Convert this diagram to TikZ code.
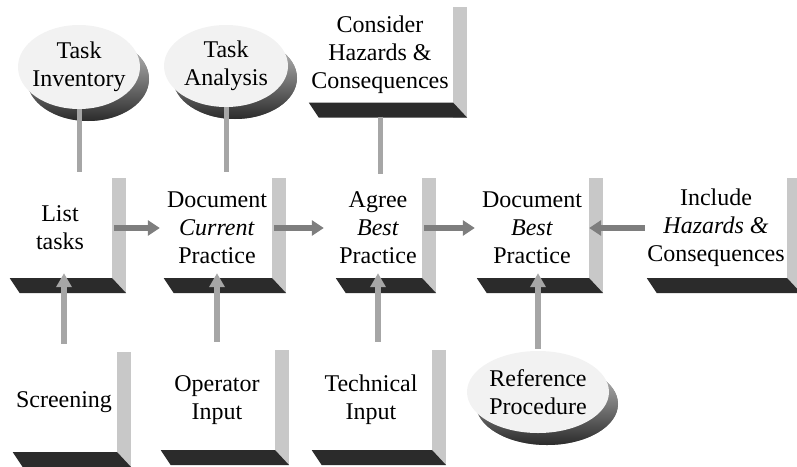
\documentclass[tikz,border=0pt]{standalone}
\usepackage{fontspec}
\setmainfont{LiberationSerif}[Extension=.ttf,UprightFont=*-Regular,ItalicFont=*-Italic,BoldFont=*-Bold,BoldItalicFont=*-BoldItalic]
\usepackage{tikz}
\usetikzlibrary{arrows.meta,positioning,calc,shapes.geometric,shadows}
\definecolor{Slab}{HTML}{2B2B2B}
\definecolor{Side}{HTML}{C8C8C8}
\definecolor{Shaft}{HTML}{7E7E7E}
\definecolor{Stem}{HTML}{A6A6A6}
\definecolor{Pale}{HTML}{F2F2F2}
\tikzset{
  face/.style={fill=white,inner sep=0pt,align=center,font=\rmfamily\fontsize{24}{28}\selectfont},
  disc/.style={ellipse,face,fill=Pale,inner xsep=-12pt,inner ysep=-6pt,
    drop shadow={shadow xshift=9pt,shadow yshift=-12pt,opacity=1,top color=Side,bottom color=Slab}},
  flowarrow/.style={-{Triangle[length=12pt,width=15pt]},line width=6pt,draw=Shaft},
  uparrow/.style={flowarrow,draw=Stem,-{Triangle[length=14pt,width=15pt]}},
  stem/.style={line width=5pt,draw=Stem}
}

\begin{document}
\begin{tikzpicture}[x=1pt,y=-1pt]
  \useasboundingbox (0,0) rectangle (797,466);
  % top row: sources
  \node[disc,minimum width=122pt,minimum height=84pt] (inventory) at (79,67) {Task\\Inventory};
  \node[disc,minimum width=124pt,minimum height=82pt] (analysis) at (226,66) {Task\\Analysis};
  \node[face,minimum width=146pt,minimum height=95pt] (hazards) at (380,55) {Consider\\Hazards \&\\Consequences};
  % middle row: the procedure steps
  \node[face,minimum width=104pt,minimum height=100pt] (list) at (60,228) {List\\tasks};
  \node[face,minimum width=110pt,minimum height=100pt] (current) at (217,228) {Document\\\textit{Current}\\Practice};
  \node[face,minimum width=88pt,minimum height=100pt] (agree) at (378,228) {Agree\\\textit{Best}\\Practice};
  \node[face,minimum width=114pt,minimum height=100pt] (best) at (532,228) {Document\\\textit{Best}\\Practice};
  \node[face,minimum width=142pt,minimum height=100pt] (include) at (716,228) {Include\\\textit{Hazards \&}\\Consequences};
  % bottom row: inputs
  \node[face,minimum width=106pt,minimum height=100pt] (screen) at (64,402) {Screening};
  \node[face,minimum width=116pt,minimum height=100pt] (operator) at (217,400) {Operator\\Input};
  \node[face,minimum width=122pt,minimum height=100pt] (technical) at (371,400) {Technical\\Input};
  \node[disc,minimum width=142pt,minimum height=82pt] (reference) at (538,392) {Reference\\Procedure};

  % side and floor of every box
  \foreach \b in {hazards,list,current,agree,best,include,screen,operator,technical} {
    \fill[Side] (\b.north east) rectangle ($(\b.south east)+(14,15)$);
    \fill[Slab] ($(\b.south west)+(2,0)$) -- (\b.south east) -- ($(\b.south east)+(14,15)$)
      -- ($(\b.south west)+(12,15)$) -- cycle;
  }

  % feeds from above
  \draw[stem,shorten >=6pt] (inventory.south) -- (inventory.south |- list.north);
  \draw[stem,shorten >=6pt] (analysis.south) -- (analysis.south |- current.north);
  \draw[stem,shorten <=14pt,shorten >=4pt] (hazards.south) -- (hazards.south |- agree.north);

  % main flow
  \draw[flowarrow,shorten <=2pt,shorten >=2pt] (list) -- (current);
  \draw[flowarrow,shorten <=2pt,shorten >=10pt] (current) -- (agree);
  \draw[flowarrow,shorten <=2pt] (agree) -- (best);
  \draw[flowarrow] (include) -- (best);

  % inputs from below
  \draw[uparrow,shorten <=8pt,shorten >=-5pt] (screen.north) -- (screen.north |- list.south);
  \draw[uparrow,shorten <=8pt,shorten >=-5pt] (operator.north) -- (operator.north |- current.south);
  \draw[uparrow,shorten <=8pt,shorten >=-5pt] (agree.south |- technical.north) -- (agree.south);
  \draw[uparrow,shorten <=2pt,shorten >=-5pt] (reference.north) -- (reference.north |- best.south);
\end{tikzpicture}
\end{document}
